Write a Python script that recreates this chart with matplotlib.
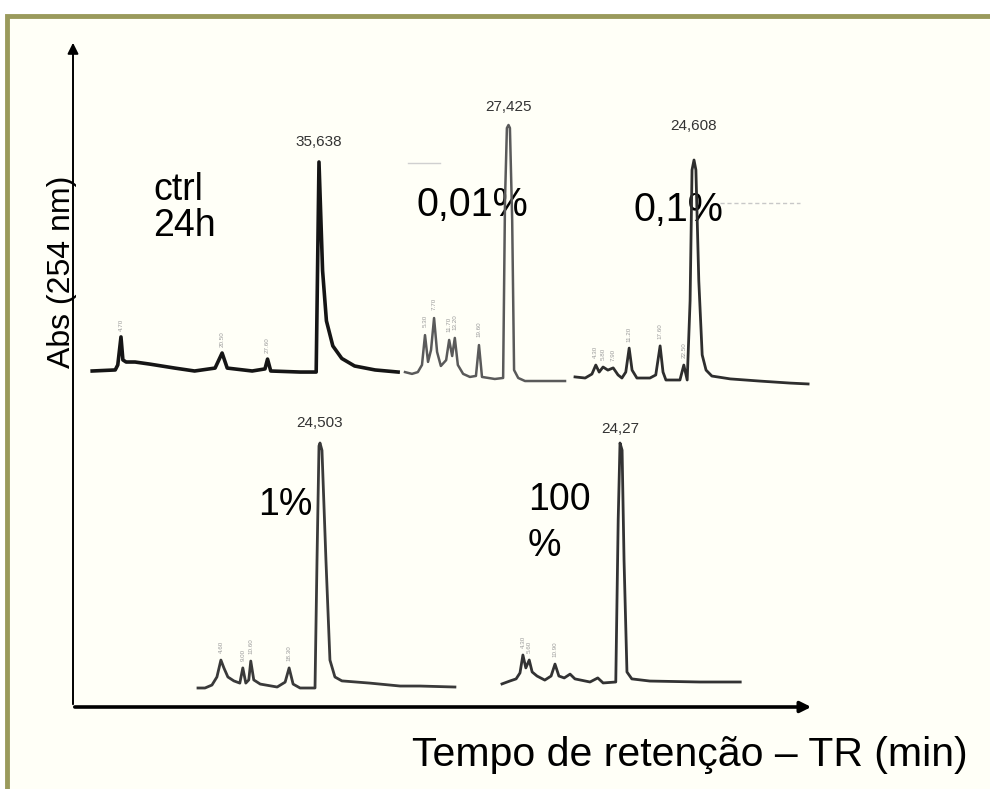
import matplotlib
matplotlib.use('Agg')
import matplotlib.pyplot as plt
from matplotlib.patches import Rectangle

plt.rcParams['font.family'] = ['Liberation Sans', 'DejaVu Sans']

W, H = 990, 789

# --- data: retention time (min), absorbance (% of main peak)
ctrl_t = [0.2, 3.8, 4.2, 4.7, 5.0, 5.5, 6.9, 9.2, 13.1, 16.2, 19.4, 20.5, 21.3, 25.2, 27.2,
          27.6, 28.1, 32.7, 35.2, 35.638, 36.2, 36.8, 37.8, 39.2, 41.2, 44.4, 48.0]
ctrl_a = [0, 0.5, 2.9, 16.3, 5.3, 4.3, 4.3, 3.3, 1.4, 0, 1.4, 8.6, 1.4, 0, 1.0,
          5.7, 0, -0.5, -0.5, 100, 48, 24, 12, 6, 2.4, 0.5, -0.5]

c001_t = [0, 1.85, 3.4, 4.5, 5.3, 6.1, 6.9, 7.7, 8.5, 9.5, 10.9, 11.7, 12.5, 13.2, 14.0,
          15.4, 17.2, 18.8, 19.6, 20.4, 23.8, 26.0, 26.5, 27.0, 27.425, 27.8, 28.4, 28.9,
          30.0, 31.8, 42.4]
c001_a = [3.1, 2.4, 3.1, 5.9, 17.6, 7.1, 11.8, 24.3, 11.0, 5.5, 7.8, 15.7, 9.4, 16.5, 5.9,
          2.4, 1.2, 1.6, 13.7, 1.2, 0.4, 0.8, 70.6, 98.8, 100, 98.8, 62.7, 3.9,
          0.8, -0.4, -0.4]

c01_t = [0, 2.1, 3.5, 4.3, 5.0, 5.8, 6.8, 7.9, 8.9, 9.7, 10.5, 11.2, 11.8, 12.8, 15.5,
         16.7, 17.6, 18.2, 18.8, 21.7, 22.5, 23.2, 23.8, 24.2, 24.608, 25.0, 25.6, 26.3,
         27.1, 28.3, 32.1, 38.3, 44.5, 48.2]
c01_a = [1.4, 0.9, 2.7, 6.8, 3.6, 5.9, 4.5, 5.5, 2.3, 0.9, 3.6, 14.5, 4.5, 0.9, 0.9,
         2.3, 15.5, 3.6, 0, 0, 6.8, 0, 36, 95.5, 100, 95.5, 45, 11.4,
         4.5, 1.8, 0.5, -0.5, -1.4, -1.8]

c1_t = [0, 1.4, 2.8, 3.8, 4.6, 5.2, 6.0, 7.2, 8.4, 9.0, 9.6, 10.2, 10.6, 11.2, 12.5,
        15.9, 17.5, 18.3, 19.1, 20.5, 23.5, 23.9, 24.3, 24.503, 24.9, 25.7, 26.5, 27.5,
        28.9, 34.5, 40.6, 44.6, 51.6]
c1_a = [0, 0, 1.2, 4.5, 11.4, 8.2, 4.5, 2.9, 2.0, 8.2, 2.0, 3.3, 11.0, 3.3, 1.6,
        0.4, 2.4, 8.2, 1.6, 0, 0, 52, 98.8, 100, 97, 52, 11.4, 4.5,
        2.9, 2.0, 0.8, 0.8, 0.4]

c100_t = [0, 1.6, 2.9, 3.7, 4.3, 4.9, 5.6, 6.2, 7.2, 8.8, 10.1, 10.9, 11.7, 12.8, 14.0,
          15.0, 18.1, 19.7, 20.8, 23.4, 23.9, 24.27, 24.7, 25.1, 25.7, 26.7, 30.4, 40.7, 49.0]
c100_a = [-0.8, 0.4, 1.3, 3.8, 11.3, 5.9, 9.2, 4.2, 2.5, 0.8, 2.5, 7.5, 2.5, 1.7, 3.3,
          1.3, 0, 1.7, -0.4, 0, 68, 100, 97, 51, 4.2, 1.3, 0.4, 0, 0]

main_rt = ['35,638', '27,425', '24,608', '24,503', '24,27']
panel_names = ['ctrl\n24h', '0,01%', '0,1%', '1%', '100\n%']

fig = plt.figure(figsize=(W / 100, H / 100), dpi=100)
fig.patch.set_facecolor('white')

bg = fig.add_axes([0, 0, 1, 1])
bg.set_xlim(0, W)
bg.set_ylim(H, 0)
bg.axis('off')
bg.add_patch(Rectangle((7, 16), W + 20, H + 20, fc='#fffff7', ec='#9a9a5c', lw=3.5))

# axis arrows
bg.annotate('', xy=(73, 40), xytext=(73, 707),
            arrowprops=dict(arrowstyle='-|>', color='k', lw=1.4, mutation_scale=16))
bg.annotate('', xy=(814, 707), xytext=(72, 707),
            arrowprops=dict(arrowstyle='-|>', color='k', lw=2.6, mutation_scale=16))
bg.text(62, 272, 'Abs (254 nm)', rotation=90, ha='center', va='center', fontsize=23)
bg.text(968, 755, 'Tempo de retenção – TR (min)', ha='right', va='center', fontsize=29.5)

# panel layout: left px, px per min, tmax, baseline px, apex px
layout = [
    (90.9, 6.4, 48.5, 371, 162),
    (405, 3.774, 42.4, 380, 125),
    (575, 4.836, 48.2, 380, 160),
    (198, 4.979, 51.6, 688, 443),
    (502, 4.862, 49.0, 682, 443),
]
series = [(ctrl_t, ctrl_a), (c001_t, c001_a), (c01_t, c01_a), (c1_t, c1_a), (c100_t, c100_a)]
colors = ['#151515', '#5a5a5a', '#2e2e2e', '#3a3a3a', '#333333']
widths = [2.6, 1.8, 2.0, 2.0, 2.0]
label_off = [20, 18, 34, 20, 14]

for (x0, s, tmax, yb, ya), (t, a), col, lw, rt, off in zip(layout, series, colors, widths, main_rt, label_off):
    ax = fig.add_axes([x0 / W, 1 - yb / H, s * tmax / W, (yb - ya) / H])
    ax.set_xlim(0, tmax)
    ax.set_ylim(0, 100)
    ax.axis('off')
    ax.plot(t, a, color=col, lw=lw, clip_on=False, solid_joinstyle='round')
    i = a.index(100)
    ax.annotate(rt, xy=(t[i], a[i]), xytext=(0, off), textcoords='offset pixels',
                ha='center', va='center', fontsize=11, color='#333333')
    # little vertical retention-time marks above the minor peaks
    for j in range(1, len(a) - 1):
        if 5 < a[j] < 40 and a[j] > a[j - 1] and a[j] > a[j + 1]:
            ax.text(t[j], a[j] + 3, '%.2f' % t[j], rotation=90, ha='center', va='bottom',
                    fontsize=4.5, color='#9a9a9a', clip_on=False)

bg.text(153, 208, panel_names[0], ha='left', va='center', fontsize=27, linespacing=1.0)
bg.text(472, 205, panel_names[1], ha='center', va='center', fontsize=28.5)
bg.text(678, 210, panel_names[2], ha='center', va='center', fontsize=28.5)
bg.text(285, 505, panel_names[3], ha='center', va='center', fontsize=27)
bg.text(528, 523, panel_names[4], ha='left', va='center', fontsize=27, linespacing=1.35)

# faint scan lines of the original
bg.plot([720, 800], [203, 203], color='#c8c8c8', lw=1, ls=(0, (3, 2)))
bg.plot([408, 440], [163, 163], color='#d0d0d0', lw=1)

fig.savefig('out.png', dpi=100, facecolor='white')
